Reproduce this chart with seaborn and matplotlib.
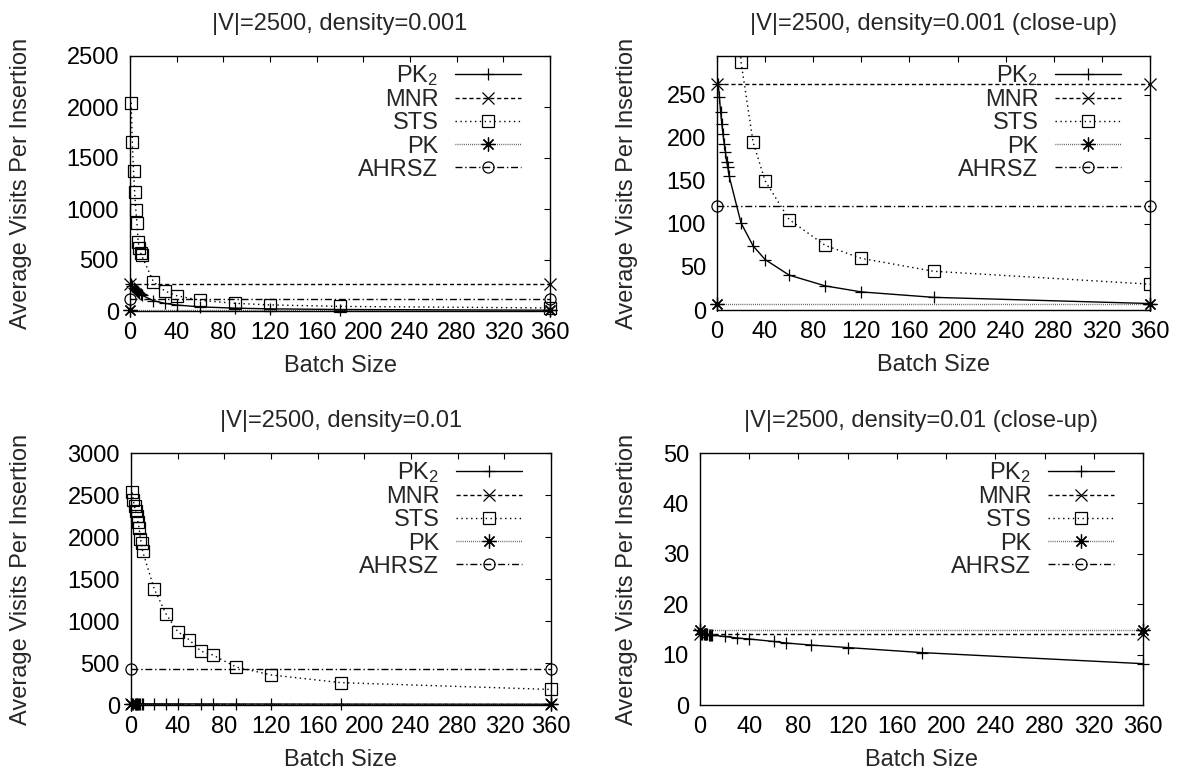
import numpy as np
import pandas as pd
import seaborn as sns
import matplotlib.pyplot as plt

# // Data (batch size vs average visits per insertion)
batch_001 = [1, 2, 3, 4, 5, 6, 7, 8, 9, 10, 20, 30, 40, 60, 90, 120, 180, 360]
pk2_001 = [262, 247, 230, 216, 204, 193, 184, 172, 166, 156, 101, 74.5, 58.6, 40.5, 28, 21, 14.7, 7.5]
sts_001 = [2043, 1655, 1377, 1162, 992, 862, 679, 614, 571, 545, 288, 195, 150, 105, 75, 60, 45, 30]
mnr_001 = 262
pk_001 = 7.5
ahrsz_001 = 120.5

batch_01_sts = [1, 2, 3, 4, 5, 6, 7, 8, 9, 10, 20, 30, 40, 50, 60, 70, 90, 120, 180, 360]
sts_01 = [2531, 2435, 2364, 2304, 2245, 2177, 2106, 1975, 1927, 1828, 1379, 1085, 874, 775, 640, 596, 453, 358, 266, 185]
batch_01_pk2 = [1, 2, 3, 4, 5, 6, 7, 8, 9, 10, 20, 30, 40, 60, 70, 90, 120, 180, 360]
pk2_01 = [14.1, 14.1, 14.0, 14.0, 14.0, 14.0, 13.9, 13.9, 13.9, 13.9, 13.6, 13.3, 13.1, 12.6, 12.3, 11.9, 11.4, 10.4, 8.2]
mnr_01 = 14.1
pk_01 = 14.8
ahrsz_01 = 430

const_x = [0, 360]
xticks = list(range(0, 361, 40))

titles = ["|V|=2500, density=0.001", "|V|=2500, density=0.001 (close-up)",
          "|V|=2500, density=0.01", "|V|=2500, density=0.01 (close-up)"]

sns.set_theme(style="white")
plt.rcParams['font.family'] = ['Liberation Sans', 'DejaVu Sans']
plt.rcParams['mathtext.default'] = 'regular'
plt.rcParams['axes.edgecolor'] = 'black'
plt.rcParams['axes.linewidth'] = 1.0

FS = 17

styles = {
    'PK2': dict(color='black', linestyle='-', marker='+', ms=8),
    'MNR': dict(color='black', linestyle=(0, (3, 2)), marker='x', ms=8),
    'STS': dict(color='black', linestyle=(0, (1, 2.5)), marker='s', ms=8),
    'PK': dict(color='#444444', linestyle=(0, (0.6, 0.9)), marker=(8, 2, 0), ms=10),
    'AHRSZ': dict(color='black', linestyle=(0, (5, 2, 1, 2)), marker='o', ms=8),
}


def draw(ax, x, y, name, label, ymax):
    st = styles[name]
    clip = max(y) > ymax
    sns.lineplot(x=x, y=y, ax=ax, label=label, color=st['color'],
                 linestyle=st['linestyle'], marker=st['marker'],
                 markersize=st['ms'], markerfacecolor='none',
                 markeredgecolor='black', markeredgewidth=0.9,
                 linewidth=1.0, errorbar=None, sort=False, clip_on=clip)


fig = plt.figure(figsize=(11.81, 7.78), dpi=100)
W, H = 1181, 778
# axes boxes in pixels: left, top, right, bottom
boxes = [(130, 56, 550, 311), (717, 56, 1150, 310),
         (131, 453, 551, 705), (700, 453, 1143, 705)]
ylims = [2500, 295, 3000, 50]
ysteps = [500, 50, 500, 10]
ylab_px = [22, 628, 22, 628]

panels = [
    (batch_001, pk2_001, batch_001, sts_001, mnr_001, pk_001, ahrsz_001),
    (batch_001, pk2_001, batch_001, sts_001, mnr_001, pk_001, ahrsz_001),
    (batch_01_pk2, pk2_01, batch_01_sts, sts_01, mnr_01, pk_01, ahrsz_01),
    (batch_01_pk2, pk2_01, batch_01_sts, sts_01, mnr_01, pk_01, ahrsz_01),
]

for i, (bx, ttl, ymax, ystep, ylx, pdata) in enumerate(zip(boxes, titles, ylims, ysteps, ylab_px, panels)):
    l, t, r, b = bx
    ax = fig.add_axes([l / W, (H - b) / H, (r - l) / W, (b - t) / H])
    xp, yp, xs, ys, mnr, pk, ah = pdata
    draw(ax, xp, yp, 'PK2', r'PK$_2$', ymax)
    draw(ax, const_x, [mnr, mnr], 'MNR', 'MNR', ymax)
    draw(ax, xs, ys, 'STS', 'STS', ymax)
    draw(ax, const_x, [pk, pk], 'PK', 'PK', ymax)
    draw(ax, const_x, [ah, ah], 'AHRSZ', 'AHRSZ', ymax)

    ax.set_xlim(0, 360)
    ax.set_ylim(0, ymax)
    ax.set_xticks(xticks)
    ax.set_yticks(np.arange(0, ymax + 1, ystep))
    ax.tick_params(direction='in', length=4, width=0.8, top=True, right=True,
                   labelsize=FS, pad=8, colors='black')
    for sp in ax.spines.values():
        sp.set_visible(True)
        sp.set_color('black')
    ax.set_title(ttl, fontsize=FS, pad=19)
    ax.set_xlabel('Batch Size', fontsize=FS, labelpad=8)
    ax.set_ylabel('Average Visits Per Insertion', fontsize=FS)
    ax.yaxis.set_label_coords((ylx + 10 - l) / (r - l), 0.5)

    # legend sits about 22 px in from the right frame, as in gnuplot
    leg = ax.legend(loc='upper right', frameon=False, markerfirst=False,
                    bbox_to_anchor=(1 - 22 / (r - l), 1),
                    fontsize=FS, handlelength=2.8, handletextpad=0.7,
                    labelspacing=0.05, borderaxespad=0.2, borderpad=0.1)

fig.savefig('out.png', dpi=100, facecolor='white')
